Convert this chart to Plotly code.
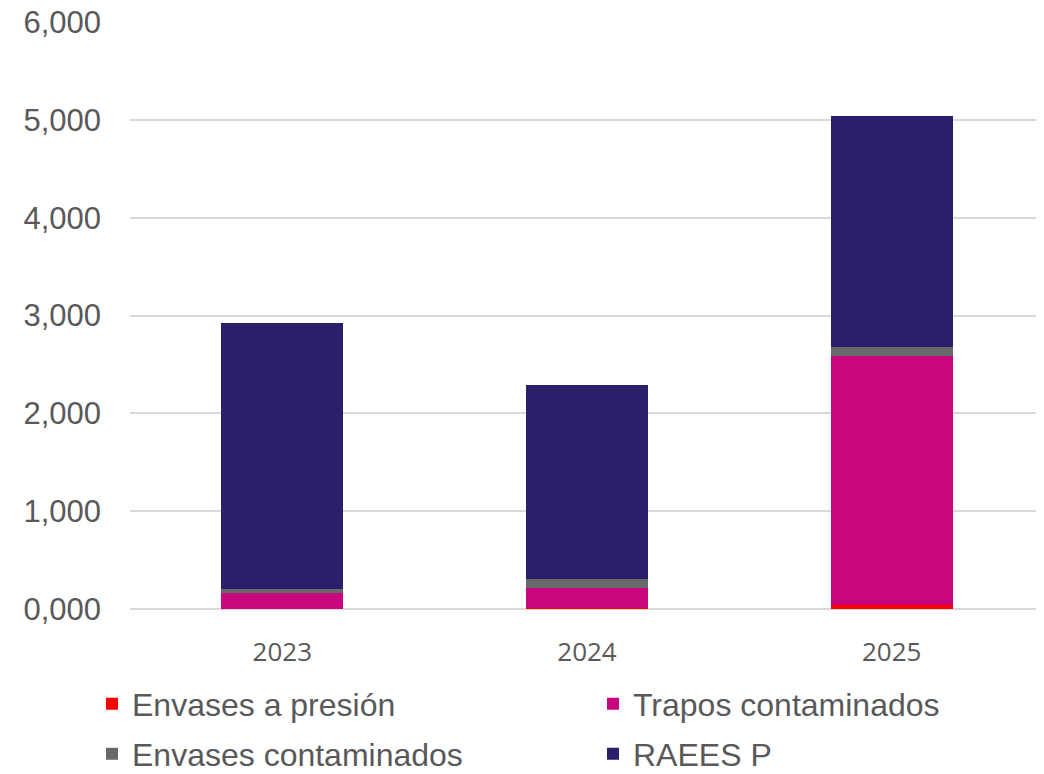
import plotly.graph_objects as go

years = ["2023", "2024", "2025"]
envases_presion = [5, 15, 40]
trapos = [160, 195, 2548]
envases_contaminados = [40, 96, 92]
raees_p = [2720, 1984, 2358]

y_tickvals = [0, 1000, 2000, 3000, 4000, 5000, 6000]
y_ticktext = ["0,000", "1,000", "2,000", "3,000", "4,000", "5,000", "6,000"]

# figure is placed at an 8px body offset in the page
W, H = 1036, 766

series = [
    ("Envases a presión", envases_presion, "#FF0000", "legend", 84, 696),
    ("Trapos contaminados", trapos, "#C8077E", "legend2", 585, 696),
    ("Envases contaminados", envases_contaminados, "#676869", "legend3", 84, 746),
    ("RAEES P", raees_p, "#2A1F6B", "legend4", 585, 746),
]

fig = go.Figure()
legend_font = dict(family="Liberation Sans, Arial", size=32, color="#595959")
legends = {}
for name, vals, color, lg, lx, ly in series:
    fig.add_trace(go.Bar(
        x=years, y=vals, name=name, legend=lg, showlegend=True,
        marker=dict(color=color, line=dict(width=0)),
        width=0.4,
    ))
    legends[lg] = dict(
        orientation="h", xref="container", yref="container",
        xanchor="left", yanchor="middle", x=lx / W, y=1 - ly / H,
        font=legend_font, bgcolor="rgba(0,0,0,0)", itemclick=False,
    )

fig.update_layout(
    barmode="stack",
    showlegend=True,
    width=W, height=H,
    margin=dict(l=122, r=0, t=14, b=165, autoexpand=False),
    paper_bgcolor="white", plot_bgcolor="white",
    xaxis=dict(
        tickfont=dict(family="Open Sans, Lato", size=26, color="#595959"),
        showgrid=False, showline=False, ticks="", ticklabelstandoff=25,
        automargin=False,
    ),
    yaxis=dict(
        range=[0, 6000], tickvals=y_tickvals, ticktext=y_ticktext,
        tickfont=dict(family="Liberation Sans, Arial", size=31, color="#595959"),
        showgrid=True, gridcolor="#D9D9D9", gridwidth=1.5,
        zeroline=True, zerolinecolor="#D9D9D9", zerolinewidth=2,
        showline=False, ticks="", ticklabelstandoff=28, automargin=False,
        ticklabeloverflow="allow",
    ),
    **legends,
)

fig.write_html("out.html")
